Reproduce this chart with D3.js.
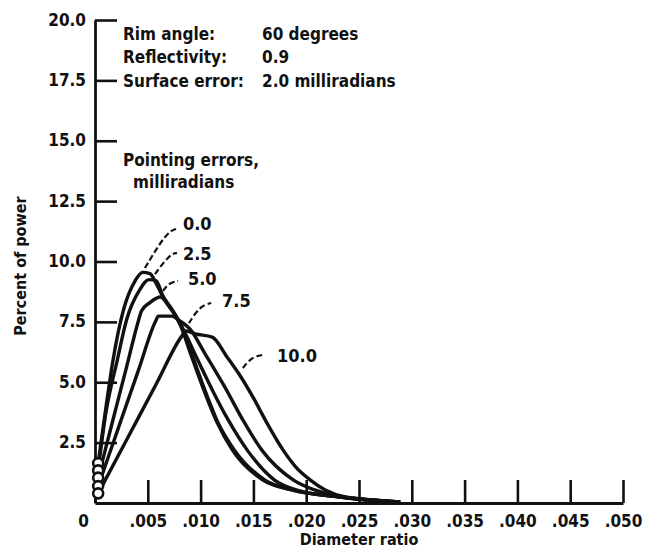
<!DOCTYPE html>
<html>
<head>
<meta charset="utf-8">
<script src="https://cdn.jsdelivr.net/npm/d3@7/dist/d3.min.js"></script>
<style>
  html, body { margin: 0; padding: 0; background: #fff; }
  svg { display: block; }
  text { font-family: "DejaVu Sans Condensed", "Liberation Sans Narrow", "DejaVu Sans", sans-serif; font-weight: bold; fill: #111; }
</style>
</head>
<body>
<script>
// Percent of power vs. diameter ratio, one curve per pointing error (milliradians)
const xTickValues = [0, 0.005, 0.010, 0.015, 0.020, 0.025, 0.030, 0.035, 0.040, 0.045, 0.050];
const yTickValues = [2.5, 5.0, 7.5, 10.0, 12.5, 15.0, 17.5, 20.0];
const pointingErrors = ["0.0", "2.5", "5.0", "7.5", "10.0"];

// [diameter ratio, percent of power]
const curvePE00 = [[0.0003,1.65],[0.0010,3.85],[0.0017,5.9],[0.0027,8.0],[0.0038,9.2],[0.0045,9.55],[0.0052,9.5],
  [0.0059,9.0],[0.0066,8.4],[0.0074,7.9],[0.0081,7.35],[0.0090,6.25],[0.0102,4.8],[0.0116,3.3],[0.0130,2.2],
  [0.0159,0.95],[0.0185,0.55],[0.0232,0.25],[0.0289,0.04]];
const curvePE25 = [[0.0003,1.35],[0.0010,3.65],[0.0021,5.9],[0.0030,7.6],[0.0042,8.8],[0.0051,9.25],[0.0058,9.2],
  [0.0064,8.6],[0.0073,8.0],[0.0082,7.3],[0.0091,6.25],[0.0103,4.8],[0.0117,3.28],[0.0132,2.19],
  [0.0161,0.95],[0.0187,0.54],[0.0232,0.25],[0.0289,0.04]];
const curvePE50 = [[0.0003,1.05],[0.0016,3.27],[0.0030,5.65],[0.0041,7.53],[0.0044,7.95],[0.0052,8.3],[0.0062,8.53],
  [0.0068,8.3],[0.0076,7.8],[0.0084,7.15],[0.0097,5.95],[0.0112,4.6],[0.0126,3.45],[0.0144,2.2],[0.0170,0.95],
  [0.0194,0.5],[0.0232,0.25],[0.0289,0.04]];
const curvePE75 = [[0.0003,0.7],[0.0022,3.09],[0.0041,5.48],[0.0057,7.49],[0.0060,7.74],[0.0073,7.74],[0.0080,7.55],
  [0.0090,7.2],[0.0104,6.2],[0.0123,4.8],[0.0140,3.44],[0.0158,2.19],[0.0188,0.95],[0.0208,0.54],[0.0232,0.25],
  [0.0289,0.04]];
const curvePE100 = [[0.0003,0.4],[0.0030,2.62],[0.0058,4.93],[0.0082,6.9],[0.0086,7.12],[0.0095,7.0],[0.0111,6.87],
  [0.0125,6.05],[0.0137,5.3],[0.0150,4.35],[0.0163,3.3],[0.0178,2.2],[0.0190,1.5],[0.0204,0.95],[0.0218,0.54],
  [0.0237,0.25],[0.0289,0.04]];

const curves = [curvePE00, curvePE25, curvePE50, curvePE75, curvePE100];

const W = 646, H = 553;
const svg = d3.select("body").append("svg").attr("width", W).attr("height", H);
svg.append("rect").attr("width", W).attr("height", H).attr("fill", "#fff");

const x = d3.scaleLinear().domain([0, 0.05]).range([95, 623]);
const y = d3.scaleLinear().domain([0, 20]).range([503, 20]);

// y axis, ticks pointing into the plot
const yAxis = svg.append("g").attr("transform", `translate(${x(0)},0)`)
  .call(d3.axisLeft(y).tickValues(yTickValues).tickFormat(d3.format(".1f"))
    .tickSize(-22).tickSizeOuter(0).tickPadding(9));
yAxis.select(".domain").attr("stroke", "#111").attr("stroke-width", 2.8);
yAxis.selectAll(".tick line").attr("stroke", "#111").attr("stroke-width", 2.6);
yAxis.selectAll("text").attr("font-family", null).attr("font-size", 17).attr("dy", "0.3em");

// x axis, ticks pointing up
const xAxis = svg.append("g").attr("transform", `translate(0,${y(0)})`)
  .call(d3.axisBottom(x).tickValues(xTickValues)
    .tickFormat(d => d === 0 ? "0" : d3.format(".3f")(d).replace(/^0/, ""))
    .tickSize(-23).tickSizeOuter(0).tickPadding(12));
xAxis.select(".domain").attr("stroke", "#111").attr("stroke-width", 2.8);
xAxis.selectAll(".tick line").attr("stroke", "#111").attr("stroke-width", 2.6);
xAxis.selectAll("text").attr("font-family", null).attr("font-size", 17);
xAxis.selectAll(".tick").filter(d => d === 0).select("text").attr("x", -12);

// curves
const line = d3.line().x(d => x(d[0])).y(d => y(d[1])).curve(d3.curveMonotoneX);
svg.append("g").selectAll("path").data(curves).join("path")
  .attr("d", line).attr("fill", "none").attr("stroke", "#111")
  .attr("stroke-width", 3.4).attr("stroke-linejoin", "round");

// starting points
svg.append("g").selectAll("circle").data(curves).join("circle")
  .attr("cx", d => x(d[0][0])).attr("cy", d => y(d[0][1])).attr("r", 5)
  .attr("fill", "#fff").attr("stroke", "#111").attr("stroke-width", 2.6);

// curve labels with leaders
const leaders = [
  { text: pointingErrors[0], at: [0.00833, 11.30], path: [[0.00473,9.73],[0.00672,11.18],[0.00767,11.35]] },
  { text: pointingErrors[1], at: [0.00833, 10.06], path: [[0.00568,9.48],[0.0071,10.31],[0.00777,10.35]] },
  { text: pointingErrors[2], at: [0.00880, 9.03], path: [[0.00644,8.78],[0.0070,9.11],[0.00786,9.19]] },
  { text: pointingErrors[3], at: [0.01203, 8.12], path: [[0.0089,7.45],[0.00994,8.16],[0.0110,8.28]] },
  { text: pointingErrors[4], at: [0.01723, 5.84], path: [[0.0140,5.59],[0.01487,6.05],[0.0159,6.13]] }
];
const leaderLine = d3.line().x(d => x(d[0])).y(d => y(d[1])).curve(d3.curveBasis);
const lg = svg.append("g");
lg.selectAll("path").data(leaders).join("path")
  .attr("d", d => leaderLine(d.path)).attr("fill", "none").attr("stroke", "#111")
  .attr("stroke-width", 2.2).attr("stroke-dasharray", "6,3");
lg.selectAll("text").data(leaders).join("text")
  .attr("x", d => x(d.at[0])).attr("y", d => y(d.at[1])).attr("font-size", 18).text(d => d.text);

// parameter block
const info = svg.append("g").attr("font-size", 17);
[["Rim angle:", "60 degrees", 40], ["Reflectivity:", "0.9", 63], ["Surface error:", "2.0 milliradians", 87]]
  .forEach(([k, v, yy]) => {
    info.append("text").attr("x", 123).attr("y", yy).text(k);
    info.append("text").attr("x", 262).attr("y", yy).text(v);
  });
svg.append("text").attr("x", 123).attr("y", 166).attr("font-size", 17).text("Pointing errors,");
svg.append("text").attr("x", 133).attr("y", 188).attr("font-size", 17).text("milliradians");

// axis titles
svg.append("text").attr("x", 359).attr("y", 545).attr("text-anchor", "middle").attr("font-size", 16).text("Diameter ratio");
svg.append("text").attr("transform", "translate(26,266) rotate(-90)").attr("text-anchor", "middle")
  .attr("font-size", 16).text("Percent of power");
</script>
</body>
</html>
